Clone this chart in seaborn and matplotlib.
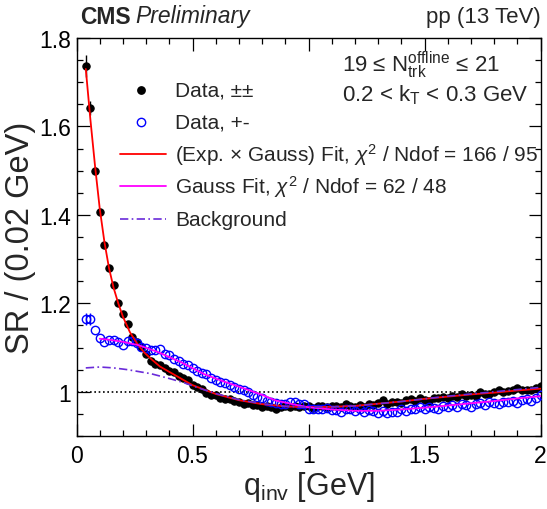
import matplotlib
matplotlib.use("Agg")
import matplotlib.pyplot as plt
from matplotlib.lines import Line2D
from matplotlib.ticker import FuncFormatter, MultipleLocator
import pandas as pd
import seaborn as sns

# bin centres (0.02 GeV bins)
q_bins = [0.04, 0.06, 0.08, 0.10, 0.12, 0.14, 0.16, 0.18, 0.20, 0.22,
          0.24, 0.26, 0.28, 0.30, 0.32, 0.34, 0.36, 0.38, 0.40, 0.42,
          0.44, 0.46, 0.48, 0.50, 0.52, 0.54, 0.56, 0.58, 0.60, 0.62,
          0.64, 0.66, 0.68, 0.70, 0.72, 0.74, 0.76, 0.78, 0.80, 0.82,
          0.84, 0.86, 0.88, 0.90, 0.92, 0.94, 0.96, 0.98, 1.00, 1.02,
          1.04, 1.06, 1.08, 1.10, 1.12, 1.14, 1.16, 1.18, 1.20, 1.22,
          1.24, 1.26, 1.28, 1.30, 1.32, 1.34, 1.36, 1.38, 1.40, 1.42,
          1.44, 1.46, 1.48, 1.50, 1.52, 1.54, 1.56, 1.58, 1.60, 1.62,
          1.64, 1.66, 1.68, 1.70, 1.72, 1.74, 1.76, 1.78, 1.80, 1.82,
          1.84, 1.86, 1.88, 1.90, 1.92, 1.94, 1.96, 1.98, 2.00]

# same-sign pairs (++)
sr_pp = [1.737, 1.642, 1.500, 1.407, 1.331, 1.281, 1.241, 1.200, 1.177, 1.154,
         1.124, 1.112, 1.102, 1.085, 1.070, 1.062, 1.060, 1.053, 1.047, 1.044,
         1.036, 1.031, 1.027, 1.015, 1.010, 1.006, 0.998, 0.992, 0.993, 0.986,
         0.984, 0.983, 0.979, 0.977, 0.973, 0.974, 0.970, 0.969, 0.965, 0.967,
         0.965, 0.962, 0.965, 0.967, 0.966, 0.968, 0.966, 0.967, 0.967, 0.964,
         0.967, 0.968, 0.965, 0.967, 0.968, 0.966, 0.972, 0.968, 0.965, 0.970,
         0.966, 0.972, 0.970, 0.974, 0.981, 0.973, 0.976, 0.978, 0.975, 0.981,
         0.984, 0.979, 0.986, 0.982, 0.980, 0.985, 0.987, 0.989, 0.986, 0.990,
         0.988, 0.995, 0.991, 0.993, 0.990, 0.999, 0.996, 0.994, 1.000, 1.003,
         0.999, 1.001, 1.004, 1.009, 1.003, 1.005, 1.003, 1.008, 1.014]

# opposite-sign pairs (+-)
sr_pm = [1.165, 1.165, 1.139, 1.121, 1.112, 1.117, 1.116, 1.113, 1.106, 1.114,
         1.114, 1.111, 1.102, 1.100, 1.095, 1.094, 1.096, 1.086, 1.084, 1.075,
         1.070, 1.063, 1.060, 1.053, 1.048, 1.043, 1.040, 1.031, 1.026, 1.023,
         1.020, 1.015, 1.011, 1.007, 1.004, 0.999, 0.993, 0.989, 0.986, 0.980,
         0.976, 0.975, 0.973, 0.973, 0.976, 0.977, 0.972, 0.973, 0.962, 0.961,
         0.960, 0.962, 0.963, 0.958, 0.958, 0.955, 0.960, 0.962, 0.957, 0.960,
         0.955, 0.958, 0.957, 0.953, 0.956, 0.952, 0.954, 0.955, 0.960, 0.957,
         0.961, 0.960, 0.965, 0.961, 0.966, 0.963, 0.960, 0.968, 0.966, 0.970,
         0.966, 0.972, 0.969, 0.965, 0.972, 0.974, 0.971, 0.976, 0.975, 0.973,
         0.977, 0.978, 0.980, 0.975, 0.981, 0.983, 0.980, 0.986, 0.992]

# only the lowest bins have visible error bars
err_pp_low = [0.025, 0.015, 0.008]
err_pm_low = [0.013, 0.013]

fit_q = [0.04, 0.06, 0.08, 0.10, 0.12, 0.14, 0.16, 0.18, 0.20, 0.23,
         0.26, 0.29, 0.32, 0.36, 0.40, 0.45, 0.50, 0.55, 0.60, 0.70,
         0.80, 0.90, 1.00, 1.10, 1.20, 1.30, 1.40, 1.50, 1.60, 1.70,
         1.80, 1.90, 2.00]
fit_expgauss = [1.730, 1.615, 1.510, 1.415, 1.340, 1.280, 1.235, 1.200, 1.170, 1.135,
                1.110, 1.090, 1.075, 1.057, 1.045, 1.030, 1.015, 1.005, 0.995, 0.981,
                0.972, 0.967, 0.965, 0.966, 0.968, 0.973, 0.978, 0.984, 0.989, 0.994,
                0.998, 1.003, 1.007]

gauss_q = [0.10, 0.15, 0.20, 0.27, 0.35, 0.45, 0.55, 0.62, 0.72, 0.80,
           0.86, 0.95, 1.00, 1.10, 1.20, 1.30, 1.40, 1.50, 1.60, 1.70,
           1.80, 1.90, 2.00]
fit_gauss = [1.120, 1.117, 1.113, 1.105, 1.090, 1.067, 1.040, 1.026, 1.008, 0.993,
             0.980, 0.970, 0.965, 0.960, 0.957, 0.957, 0.960, 0.964, 0.969, 0.974,
             0.979, 0.985, 0.990]

bkg_q = [0.04, 0.10, 0.16, 0.22, 0.32, 0.40, 0.46, 0.53, 0.60, 0.70,
         0.80, 0.90, 1.00, 1.10, 1.20, 1.30, 1.40, 1.50, 1.60, 1.70,
         1.80, 1.90, 2.00]
bkg = [1.054, 1.056, 1.054, 1.050, 1.041, 1.030, 1.021, 1.008, 0.996, 0.982,
       0.973, 0.967, 0.965, 0.966, 0.968, 0.973, 0.978, 0.984, 0.990, 0.995,
       1.000, 1.005, 1.010]

legend_labels = [
    "Data, ±±",
    "Data, +-",
    r"(Exp. × Gauss) Fit, $\chi^{2}$ / Ndof = 166 / 95",
    r"Gauss Fit, $\chi^{2}$ / Ndof = 62 / 48",
    "Background",
]

W, H = 547, 510
RED, MAG, BLUE, VIO = "#ff0000", "#ff00ff", "#0000ff", "#6a2bd9"
DASHDOT = (0, (5, 2, 1, 2))

sns.set_theme(style="ticks")
plt.rcParams["font.family"] = ["Liberation Sans", "DejaVu Sans"]
plt.rcParams["mathtext.fontset"] = "custom"
plt.rcParams["mathtext.rm"] = "Liberation Sans"
plt.rcParams["mathtext.it"] = "Liberation Sans:italic"
plt.rcParams["mathtext.bf"] = "Liberation Sans:bold"

fig = plt.figure(figsize=(W / 100, H / 100), dpi=100)
ax = fig.add_axes([76.5 / W, 1 - 437 / H, 464 / W, 398 / H])

pts = pd.DataFrame({"q": q_bins, "pp": sr_pp, "pm": sr_pm})

ax.axhline(1.0, color="black", ls=(0, (1, 1.6)), lw=1.2, zorder=1)

ax.errorbar(q_bins[:3], sr_pp[:3], yerr=err_pp_low, fmt="none", ecolor="black", elinewidth=1, zorder=3)
ax.errorbar(q_bins[:2], sr_pm[:2], yerr=err_pm_low, fmt="none", ecolor=BLUE, elinewidth=1, zorder=3)
sns.lineplot(data=pts, x="q", y="pp", ax=ax, linestyle="", marker="o", ms=5.3,
             mfc="black", mec="black", zorder=3)
sns.lineplot(data=pts, x="q", y="pm", ax=ax, linestyle="", marker="o", ms=6.0,
             mfc="none", mec=BLUE, mew=1.0, zorder=4)

sns.lineplot(x=fit_q, y=fit_expgauss, ax=ax, color=RED, lw=1.3, zorder=5)
sns.lineplot(x=gauss_q, y=fit_gauss, ax=ax, color=MAG, lw=1.3, zorder=5)
sns.lineplot(x=bkg_q, y=bkg, ax=ax, color=VIO, lw=1.2, ls=DASHDOT, zorder=6)

ax.set_xlim(0, 2)
ax.set_ylim(0.9, 1.8)
ax.xaxis.set_major_locator(MultipleLocator(0.5))
ax.xaxis.set_minor_locator(MultipleLocator(0.1))
ax.yaxis.set_major_locator(MultipleLocator(0.2))
ax.yaxis.set_minor_locator(MultipleLocator(0.05))
fmt = FuncFormatter(lambda v, p: f"{v:g}")
ax.xaxis.set_major_formatter(fmt)
ax.yaxis.set_major_formatter(fmt)
ax.tick_params(which="both", direction="in", top=True, right=True, width=0.9, colors="black")
ax.tick_params(which="major", length=9, labelsize=16.5)
ax.tick_params(axis="x", which="major", pad=6)
ax.tick_params(axis="y", which="major", pad=4)
ax.tick_params(which="minor", length=4.5)
for s in ax.spines.values():
    s.set_linewidth(1.0)
    s.set_color("black")

ax.set_xlabel(r"q$_{\rm inv}$ [GeV]", fontsize=22)
ax.set_ylabel("SR / (0.02 GeV)", fontsize=23.5)
ax.xaxis.set_label_coords(0.5, -(470 - 437) / 398)
ax.yaxis.set_label_coords(-(76.5 - 36) / 464, 0.5)

# ROOT-style legend, drawn row by row in figure pixels
rows_y = [91, 123, 155, 187, 220]
handles = [
    dict(ls="none", marker="o", ms=5.3, mfc="black", mec="black"),
    dict(ls="none", marker="o", ms=6.0, mfc="none", mec=BLUE, mew=1.0),
    dict(color=RED, lw=1.3),
    dict(color=MAG, lw=1.3),
    dict(color=VIO, lw=1.2, ls=DASHDOT),
]
for y, style, label in zip(rows_y, handles, legend_labels):
    yf = 1 - y / H
    if style.get("marker"):
        fig.add_artist(Line2D([141 / W], [yf], transform=fig.transFigure, **style))
    else:
        fig.add_artist(Line2D([120 / W, 166 / W], [yf, yf], transform=fig.transFigure, **style))
    fig.text(175 / W, yf, label, fontsize=15, va="center", ha="left")

fig.text(80 / W, 1 - 17 / H, "CMS", fontsize=16.5, fontweight="bold", va="center", ha="left")
fig.text(135 / W, 1 - 17 / H, "Preliminary", fontsize=16.5, fontstyle="italic", va="center", ha="left")
fig.text(541 / W, 1 - 17 / H, "pp (13 TeV)", fontsize=16, va="center", ha="right")
fig.text(342 / W, 1 - 65 / H, r"19 ≤ $\mathrm{N}_{\mathrm{trk}}^{\mathrm{offline}}$ ≤ 21",
         fontsize=16, va="center", ha="left")
fig.text(342 / W, 1 - 95 / H, r"0.2 < k$_{\mathrm{T}}$ < 0.3 GeV", fontsize=16, va="center", ha="left")

fig.savefig("out.png", dpi=100)
